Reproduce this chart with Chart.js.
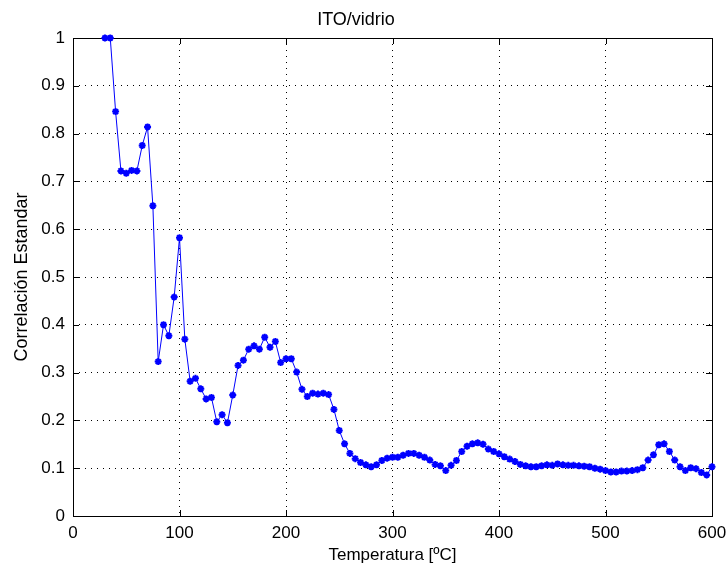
<!DOCTYPE html>
<html>
<head>
<meta charset="utf-8">
<title>ITO/vidrio</title>
<script src="https://cdn.jsdelivr.net/npm/chart.js@4"></script>
<style>
  body { margin: 0; background: #fff; }
</style>
</head>
<body>
<canvas id="myChart" width="728" height="570"></canvas>
<script>
// data
const temps = [30, 35, 40, 45, 50, 55, 60, 65, 70, 75, 80, 85, 90, 95, 100,
  105, 110, 115, 120, 125, 130, 135, 140, 145, 150, 155, 160, 165, 170, 175,
  180, 185, 190, 195, 200, 205, 210, 215, 220, 225, 230, 235, 240, 245, 250,
  255, 260, 265, 270, 275, 280, 285, 290, 295, 300, 305, 310, 315, 320, 325,
  330, 335, 340, 345, 350, 355, 360, 365, 370, 375, 380, 385, 390, 395, 400,
  405, 410, 415, 420, 425, 430, 435, 440, 445, 450, 455, 460, 465, 470, 475,
  480, 485, 490, 495, 500, 505, 510, 515, 520, 525, 530, 535, 540, 545, 550,
  555, 560, 565, 570, 575, 580, 585, 590, 595, 600];

const correlacion = [1.000, 1.000, 0.846, 0.722, 0.717, 0.723, 0.722, 0.775, 0.814, 0.649,
  0.323, 0.400, 0.377, 0.458, 0.582, 0.370, 0.282, 0.288, 0.266, 0.245,
  0.248, 0.197, 0.212, 0.195, 0.253, 0.315, 0.326, 0.349, 0.356, 0.349,
  0.374, 0.353, 0.365, 0.321, 0.329, 0.329, 0.301, 0.265, 0.250, 0.257,
  0.255, 0.257, 0.254, 0.223, 0.179, 0.151, 0.131, 0.120, 0.112, 0.107,
  0.103, 0.107, 0.116, 0.121, 0.123, 0.123, 0.127, 0.131, 0.131, 0.127,
  0.123, 0.117, 0.108, 0.105, 0.095, 0.106, 0.116, 0.135, 0.146, 0.151,
  0.153, 0.150, 0.140, 0.135, 0.130, 0.124, 0.119, 0.114, 0.108, 0.105,
  0.103, 0.103, 0.105, 0.107, 0.106, 0.109, 0.107, 0.106, 0.106, 0.105,
  0.104, 0.103, 0.100, 0.098, 0.095, 0.092, 0.092, 0.094, 0.094, 0.095,
  0.097, 0.101, 0.117, 0.128, 0.149, 0.151, 0.135, 0.117, 0.103, 0.095,
  0.101, 0.099, 0.091, 0.086, 0.103];

const xTicks = [0, 100, 200, 300, 400, 500, 600];
const yTicks = [0, 0.1, 0.2, 0.3, 0.4, 0.5, 0.6, 0.7, 0.8, 0.9, 1];

const FONT = "'Liberation Sans', Arial, sans-serif";

// matlab style box + inward ticks on all four sides
const axesBox = {
  id: 'axesBox',
  beforeDatasetsDraw(chart) {
    const {ctx, chartArea: a, scales} = chart;
    ctx.save();
    ctx.strokeStyle = '#000';
    ctx.lineWidth = 1;
    ctx.beginPath();
    xTicks.forEach(v => {
      const px = Math.round(scales.x.getPixelForValue(v)) + 0.5;
      ctx.moveTo(px, a.bottom); ctx.lineTo(px, a.bottom - 6);
      ctx.moveTo(px, a.top); ctx.lineTo(px, a.top + 6);
    });
    yTicks.forEach(v => {
      const py = Math.round(scales.y.getPixelForValue(v)) + 0.5;
      ctx.moveTo(a.left, py); ctx.lineTo(a.left + 6, py);
      ctx.moveTo(a.right, py); ctx.lineTo(a.right - 6, py);
    });
    ctx.stroke();
    ctx.strokeRect(Math.round(a.left) + 0.5, Math.round(a.top) + 0.5,
      Math.round(a.right - a.left), Math.round(a.bottom - a.top));
    ctx.restore();
  }
};

// setup
const data = {
  datasets: [{
    label: 'ITO/vidrio',
    data: temps.map((t, i) => ({x: t, y: correlacion[i]})),
    showLine: true,
    borderColor: '#0000ff',
    backgroundColor: '#0000ff',
    borderWidth: 1,
    pointStyle: 'star',
    pointRadius: 3.5,
    pointBorderWidth: 2,
    pointBorderColor: '#0000ff',
    clip: 8
  }]
};

// config
const config = {
  type: 'scatter',
  data,
  options: {
    responsive: false,
    devicePixelRatio: 1,
    animation: false,
    layout: { padding: { left: 0, right: 16, top: 0, bottom: 0 } },
    plugins: {
      legend: { display: false },
      tooltip: { enabled: false },
      title: {
        display: true,
        text: 'ITO/vidrio',
        color: '#000',
        font: { family: FONT, size: 18, weight: 'normal', lineHeight: 1.25 },
        padding: { top: 9, bottom: 6.5 }
      }
    },
    scales: {
      x: {
        type: 'linear',
        min: 0,
        max: 600,
        afterBuildTicks: axis => { axis.ticks = xTicks.map(v => ({value: v})); },
        afterFit: axis => {
          axis.height = 54;
          axis.paddingLeft = 0;
          axis.paddingRight = 0;
        },
        grid: { color: '#000', lineWidth: 1, drawTicks: false },
        border: { display: false, dash: [1, 5] },
        ticks: { color: '#000', padding: 7, maxRotation: 0, font: { family: FONT, size: 17 } },
        title: {
          display: true,
          text: 'Temperatura [ºC]',
          color: '#000',
          font: { family: FONT, size: 17, lineHeight: 1.2 },
          padding: { top: 0, bottom: 4 }
        }
      },
      y: {
        min: 0,
        max: 1,
        afterBuildTicks: axis => { axis.ticks = yTicks.map(v => ({value: v})); },
        afterFit: axis => {
          axis.width = 73;
          axis.paddingTop = 0;
          axis.paddingBottom = 0;
        },
        grid: { color: '#000', lineWidth: 1, drawTicks: false },
        border: { display: false, dash: [1, 5] },
        ticks: {
          color: '#000',
          padding: 8,
          font: { family: FONT, size: 17 },
          callback: v => String(Math.round(v * 10) / 10)
        },
        title: {
          display: true,
          text: 'Correlación Estandar',
          color: '#000',
          font: { family: FONT, size: 18, lineHeight: 1.2 },
          padding: { top: 11, bottom: 0 }
        }
      }
    }
  },
  plugins: [axesBox]
};

// render init block
const myChart = new Chart(
  document.getElementById('myChart'),
  config
);
</script>
</body>
</html>
